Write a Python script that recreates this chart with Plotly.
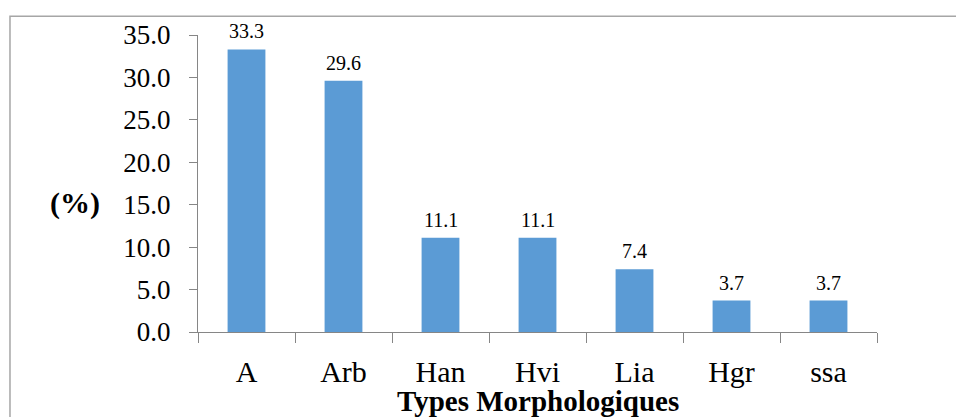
import plotly.graph_objects as go

categories = ["A", "Arb", "Han", "Hvi", "Lia", "Hgr", "ssa"]
values = [33.3, 29.6, 11.1, 11.1, 7.4, 3.7, 3.7]
y_ticks = [0, 5, 10, 15, 20, 25, 30, 35]

FONT = "Liberation Serif, Times New Roman, serif"
AX = "#868686"

fig = go.Figure()
fig.add_trace(go.Bar(
    x=categories, y=values,
    marker=dict(color="#5B9BD5", line=dict(width=0)),
    width=0.39,
))

label_annotations = [
    dict(x=c, y=v, xref="x", yref="y", text=f"{v:.1f}", showarrow=False,
         xanchor="center", yanchor="bottom", yshift=5,
         font=dict(family=FONT, size=20, color="#000000"))
    for c, v in zip(categories, values)
]

fig.update_layout(
    width=956, height=409,
    margin=dict(l=190, r=87, t=24, b=85),
    paper_bgcolor="white", plot_bgcolor="white",
    font=dict(family=FONT, color="#000000"),
    showlegend=False,
    xaxis=dict(
        showline=True, linecolor=AX, linewidth=1,
        ticks="outside", tickson="boundaries", ticklen=10, tickcolor=AX,
        tickfont=dict(family=FONT, size=30, color="#000000"),
        ticklabelstandoff=13,
        showgrid=False, zeroline=False,
    ),
    yaxis=dict(
        range=[0, 35], tickvals=y_ticks, tickformat=".1f",
        showline=True, linecolor=AX, linewidth=1,
        ticks="outside", ticklen=8, tickcolor=AX,
        tickfont=dict(family=FONT, size=27, color="#000000"),
        ticklabelstandoff=13,
        showgrid=False, zeroline=False,
    ),
    annotations=label_annotations + [
        dict(text="<b>Types Morphologiques</b>", xref="paper", yref="paper",
             x=0.5, y=-0.233, xanchor="center", yanchor="middle",
             showarrow=False, font=dict(family=FONT, size=29, color="#000000")),
        dict(text="<b>(%)</b>", xref="paper", yref="paper",
             x=-0.181, y=0.433, xanchor="center", yanchor="middle",
             showarrow=False, font=dict(family=FONT, size=30, color="#000000")),
    ],
    shapes=[
        dict(type="rect", xref="paper", yref="paper",
             x0=-0.2769, x1=1.2, y0=-0.4, y1=1.063,
             line=dict(color="#a6a6a6", width=1.5), fillcolor="rgba(0,0,0,0)",
             layer="below"),
    ],
)

fig.write_html("out.html")
